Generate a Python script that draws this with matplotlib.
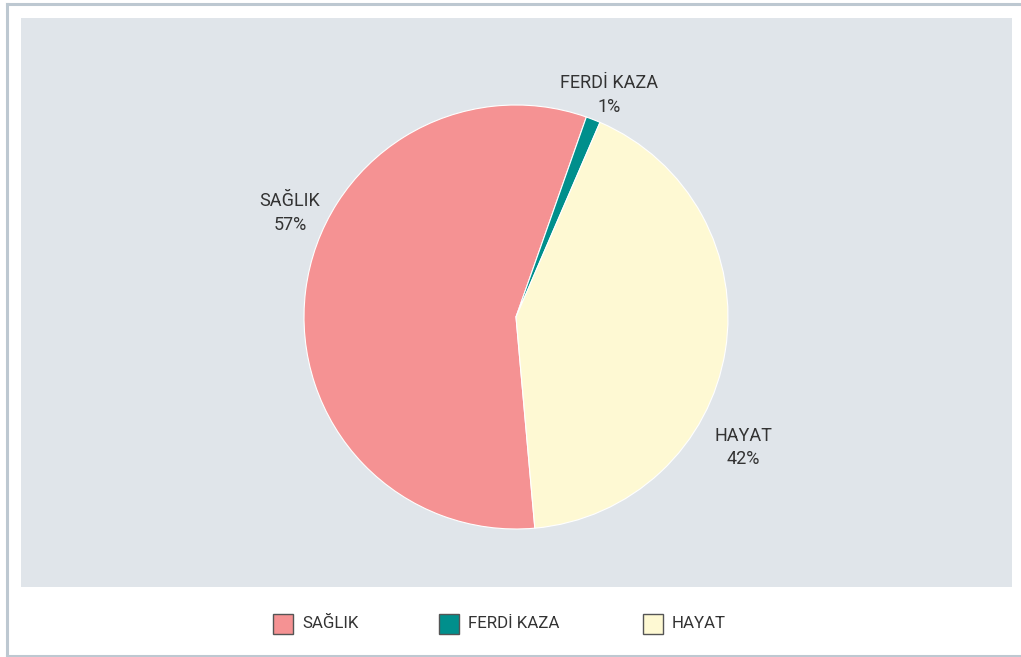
import matplotlib.pyplot as plt
from matplotlib.patches import Rectangle
from matplotlib.lines import Line2D

# veri
categories = ['SAĞLIK', 'FERDİ KAZA', 'HAYAT']
shares = [56.8, 1.1, 42.1]
pct_labels = ['57%', '1%', '42%']
colors = ['#F59293', '#008F8C', '#FEF9D3']

# etiket konumlari (pasta yaricapi = 1)
label_pos = [(-1.066, 0.49), (0.439, 1.048), (1.071, -0.615)]
legend_x = [273, 439, 643]  # piksel

plt.rcParams['font.family'] = ['Roboto', 'DejaVu Sans']
text_color = '#333333'

W, H = 1021, 657
fig = plt.figure(figsize=(W / 100, H / 100), dpi=100)
fig.patch.set_facecolor('white')

# gri arka plan
bg = fig.add_axes([21 / W, 1 - 586.5 / H, (1012 - 21) / W, (586.5 - 18) / H])
bg.set_facecolor('#E0E5EA')
bg.set_xticks([])
bg.set_yticks([])
for s in bg.spines.values():
    s.set_visible(False)

# pasta
cx, cy, r = 516, 317, 212
half = 300
ax = fig.add_axes([(cx - half) / W, (H - cy - half) / H, 2 * half / W, 2 * half / H])
ax.patch.set_alpha(0)
ax.pie(shares, colors=colors, startangle=-84.9, counterclock=False,
       wedgeprops=dict(linewidth=0.8, edgecolor='white'))
ax.set_xlim(-half / r, half / r)
ax.set_ylim(-half / r, half / r)
ax.set_aspect('equal')
ax.axis('off')

for name, pct, (x, y) in zip(categories, pct_labels, label_pos):
    ax.text(x, y, f'{name}\n{pct}', ha='center', va='center', fontsize=13,
            color=text_color, linespacing=1.4)

# lejant
ly = 624
for name, col, x in zip(categories, colors, legend_x):
    fig.patches.append(Rectangle((x / W, 1 - (ly + 10) / H), 20 / W, 20 / H,
                                 transform=fig.transFigure, facecolor=col,
                                 edgecolor='#555555', linewidth=1))
    fig.text((x + 29) / W, 1 - ly / H, name, ha='left', va='center',
             fontsize=12.2, color=text_color)

# cerceve
bc = '#BDC8D1'
fig.add_artist(Line2D([7 / W, 7 / W], [0, 1 - 4 / H], color=bc, linewidth=2.2))
fig.add_artist(Line2D([7 / W, 1], [1 - 4 / H, 1 - 4 / H], color=bc, linewidth=2.2))
fig.add_artist(Line2D([7 / W, 1], [1 - 656 / H, 1 - 656 / H], color=bc, linewidth=2.2))

fig.savefig('out.png', dpi=100)
